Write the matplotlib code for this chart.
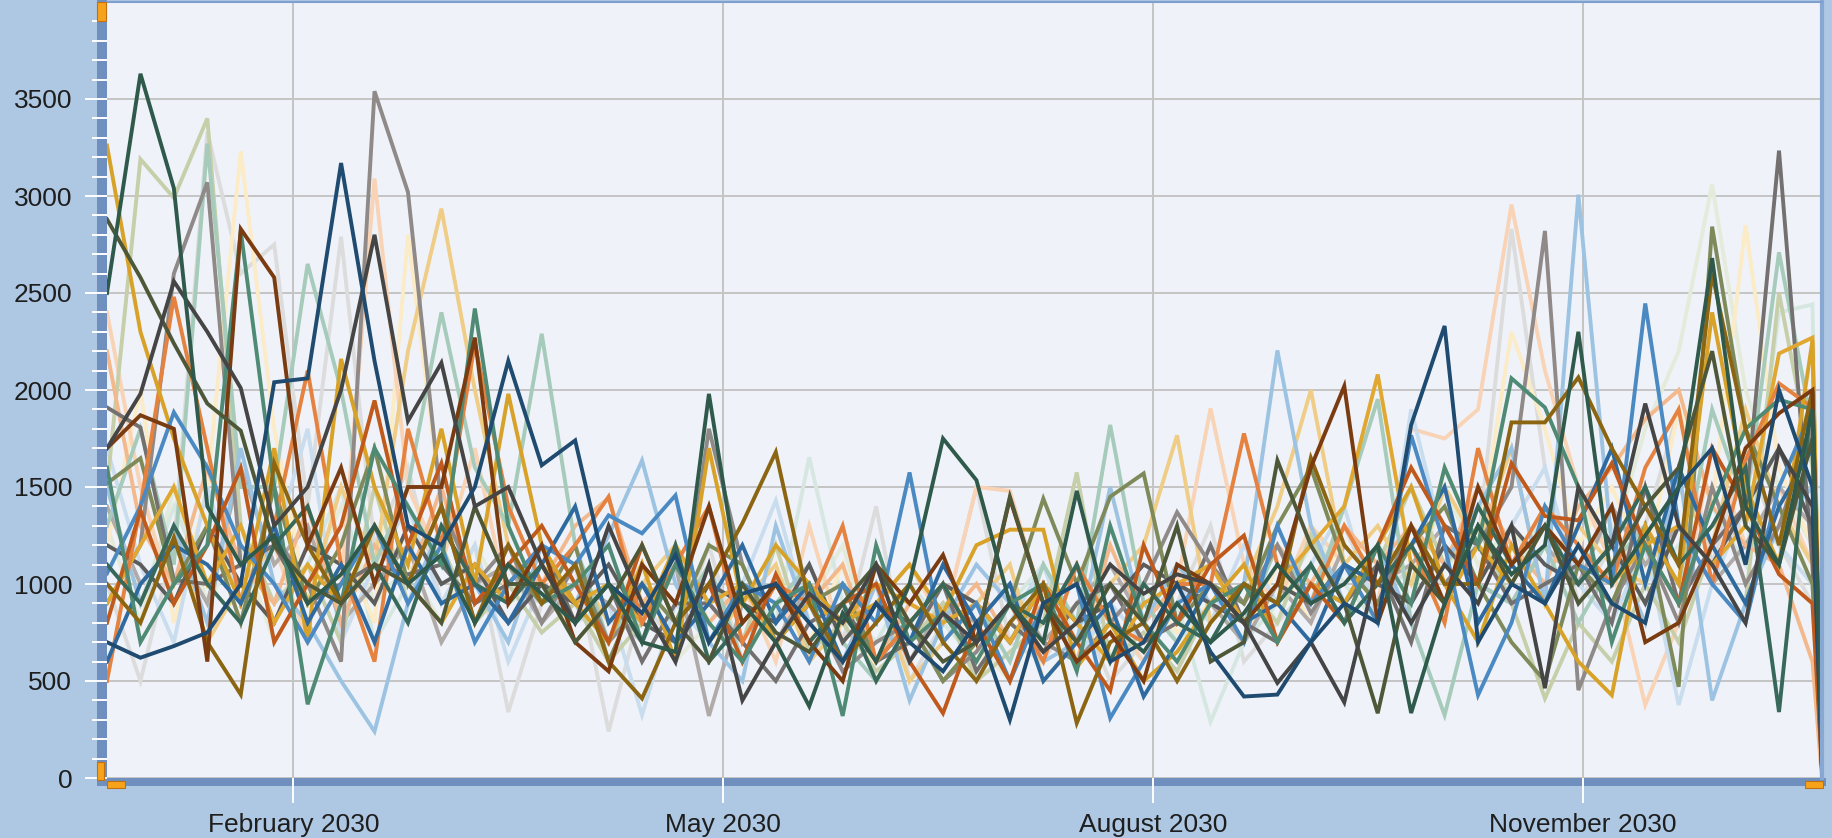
import numpy as np
import pandas as pd
import matplotlib
matplotlib.use("Agg")
import matplotlib.pyplot as plt
from matplotlib.patches import Rectangle

# weekly dates, last point is a partial week two days after the last full week
start = pd.Timestamp("2029-12-24")
dates = list(pd.date_range(start, periods=52, freq="7D")) + [start + pd.Timedelta(days=359)]

tick_dates = pd.to_datetime(["2030-02-01", "2030-05-02", "2030-07-31", "2030-10-29"])
tick_labels = ["February 2030", "May 2030", "August 2030", "November 2030"]

# values per series (k0-12, k13-25, k26-38, k39-51, partial)
dark_green = [2500, 3630, 3040, 1400, 1100, 1250, 900, 1050, 1300, 1000, 1150, 800, 1100,
              950, 800, 1000, 700, 650, 1980, 900, 700, 370, 850, 600, 1000, 1750,
              1535, 900, 700, 1480, 800, 650, 900, 700, 850, 1100, 900, 1000, 1200,
              335, 900, 1300, 1050, 1200, 2300, 1000, 1250, 1500, 2680, 1400, 1100, 1900, 80]
sage = [1500, 3190, 2990, 3400, 1300, 900, 1100, 700, 1500, 900, 1200, 800, 1000,
        750, 900, 600, 800, 1100, 900, 700, 1200, 650, 800, 550, 700, 900,
        500, 650, 800, 1575, 600, 750, 550, 900, 1000, 800, 1250, 900, 1100,
        1500, 1100, 1300, 900, 410, 800, 600, 1000, 700, 1200, 900, 2500, 1600, 100]
warm_gray = [900, 1200, 2600, 3070, 1100, 1250, 1000, 600, 3540, 3020, 1400, 1000, 1200,
             800, 1100, 700, 900, 600, 1800, 1100, 700, 900, 550, 700, 800, 500,
             650, 900, 700, 600, 800, 1000, 1370, 1100, 900, 1200, 850, 1100, 900,
             1300, 1000, 1200, 1500, 2820, 453, 900, 1200, 800, 1500, 1000, 1300, 1800, 60]
peach = [2400, 1500, 900, 1300, 800, 1200, 700, 1000, 3090, 1500, 1100, 1700, 900,
         1200, 800, 1000, 700, 1200, 800, 1000, 600, 1300, 700, 900, 1100, 800,
         1500, 1480, 900, 700, 850, 600, 1000, 1905, 1100, 900, 1300, 1100, 900,
         1800, 1750, 1900, 2956, 2100, 1500, 1100, 376, 800, 1700, 1200, 1500, 1100, 150]
cream = [1200, 2000, 800, 1500, 3230, 1800, 900, 1200, 800, 2800, 1400, 1000, 800,
         1100, 700, 900, 1200, 800, 1000, 600, 900, 700, 1100, 500, 800, 1000,
         600, 800, 700, 900, 600, 1000, 750, 900, 700, 1100, 800, 1300, 1000,
         900, 1600, 1200, 2300, 1800, 1200, 1500, 1100, 1900, 1400, 2850, 1600, 1200, 120]
navy = [700, 620, 680, 750, 1000, 2040, 2060, 3170, 2150, 1300, 1200, 1500, 2150,
        1612, 1740, 1000, 850, 1150, 700, 950, 1000, 800, 600, 900, 700, 550,
        800, 300, 900, 1000, 600, 700, 1000, 650, 420, 430, 700, 900, 800,
        1820, 2330, 700, 1000, 900, 1200, 900, 800, 1500, 1700, 1100, 2000, 1500, 50]
charcoal = [1700, 1980, 2560, 2300, 2010, 1300, 1500, 2000, 2800, 1840, 2140, 1400, 1500,
            1100, 800, 1300, 900, 600, 1100, 400, 700, 950, 800, 1100, 600, 850,
            700, 900, 650, 800, 1100, 950, 1050, 1000, 800, 490, 700, 390, 1100,
            800, 1100, 900, 1300, 463, 1500, 1200, 1930, 1300, 1100, 800, 1700, 1400, 40]
goldenrod = [3260, 2300, 1750, 1300, 900, 1700, 700, 2160, 1500, 1100, 1800, 1000, 1980,
             1200, 900, 700, 1107, 600, 1700, 900, 1200, 1000, 800, 900, 1100, 850,
             1200, 1280, 1280, 570, 800, 500, 650, 900, 1100, 700, 1000, 900, 1200,
             1500, 1000, 700, 1200, 900, 600, 427, 1300, 1000, 2400, 1500, 1100, 2255, 50]
dark_olive = [2880, 2580, 2240, 1930, 1790, 1200, 1000, 900, 1100, 1000, 800, 1400, 1000,
              1000, 700, 900, 1200, 800, 600, 1000, 750, 650, 900, 1100, 800, 600,
              700, 1450, 900, 700, 1000, 800, 1300, 600, 700, 1637, 1200, 900, 334,
              1100, 900, 1300, 1000, 1300, 900, 1100, 1400, 1600, 2200, 1300, 1100, 1750, 90]
brown = [1700, 1870, 1800, 600, 2830, 2580, 1200, 1600, 1000, 1500, 1500, 2270, 900,
         1200, 700, 550, 1100, 900, 1400, 800, 1000, 700, 500, 1100, 900, 1150,
         700, 1440, 900, 600, 750, 500, 1100, 1000, 800, 1000, 1600, 2020, 800,
         1300, 900, 1500, 1100, 1300, 1100, 1400, 700, 800, 1200, 1700, 1880, 2000, 100]
light_gray = [1000, 500, 1200, 3330, 2600, 2750, 1400, 2790, 1200, 1600, 900, 1200, 340,
              900, 1100, 240, 900, 700, 1200, 600, 900, 1000, 700, 1400, 500, 800,
              1500, 700, 600, 900, 500, 700, 900, 1300, 600, 800, 1000, 1300, 900,
              1100, 1000, 1200, 2830, 1600, 900, 1200, 1300, 1900, 1100, 1700, 1200, 900, 70]
teal = [1600, 700, 1000, 1200, 2820, 1500, 380, 900, 1700, 1400, 1100, 2420, 1300,
        900, 1000, 1200, 700, 1100, 800, 600, 900, 1000, 320, 1200, 700, 850,
        600, 900, 1000, 550, 1300, 800, 600, 900, 1000, 700, 1100, 800, 1200,
        900, 1600, 1200, 2060, 1910, 1500, 700, 1200, 900, 1400, 1800, 1950, 1900, 60]
mint = [1300, 1800, 1100, 3270, 1500, 1500, 2650, 2000, 1100, 1500, 2400, 1600, 1300,
        2290, 1200, 700, 1000, 800, 1100, 600, 900, 1100, 700, 500, 800, 1000,
        900, 600, 1100, 800, 1820, 900, 700, 1000, 800, 1200, 900, 1400, 1953,
        800, 324, 1000, 900, 1200, 800, 1100, 1300, 1000, 1900, 1400, 2710, 1800, 120]
wheat = [1500, 900, 1300, 700, 1000, 1200, 900, 1500, 1100, 2200, 2935, 2000, 1200,
         900, 1100, 800, 1000, 1200, 700, 900, 1100, 600, 800, 1000, 500, 700,
         900, 1100, 500, 700, 1000, 1200, 1766, 800, 1000, 1400, 2000, 1100, 1300,
         1000, 1500, 1200, 1700, 900, 1300, 1100, 1000, 1500, 1200, 1900, 1400, 1100, 100]
orange = [500, 1400, 2480, 1700, 900, 1300, 2100, 1100, 600, 1800, 1200, 2240, 1400,
          1000, 1200, 1450, 800, 1100, 1400, 700, 1000, 900, 1300, 600, 800, 1000,
          700, 900, 600, 1100, 800, 700, 1000, 1000, 1776, 1100, 900, 1300, 1000,
          1200, 800, 1700, 1100, 1400, 1200, 1000, 1600, 1900, 1000, 1637, 2034, 1910, 40]
rust = [800, 1380, 900, 1200, 1596, 700, 1000, 1300, 1946, 1200, 1622, 900, 1100,
        1300, 1000, 700, 1200, 800, 1000, 600, 1050, 700, 900, 1000, 600, 334,
        800, 500, 1000, 700, 450, 1200, 800, 1100, 1250, 700, 1000, 800, 1200,
        1600, 1300, 1000, 1622, 1350, 1328, 1622, 1200, 900, 1700, 1400, 1050, 900, 50]
steel_blue = [1055, 1400, 1885, 1600, 1200, 1000, 700, 1000, 1300, 900, 1200, 700, 1000,
              1200, 1100, 1354, 1261, 1457, 700, 1000, 900, 600, 1000, 800, 1575, 700,
              900, 500, 900, 1000, 309, 600, 900, 1000, 700, 1300, 900, 1100, 800,
              1766, 1200, 427, 800, 1400, 1100, 1000, 2446, 1300, 1000, 800, 1500, 1900, 60]
light_blue = [1500, 900, 1300, 800, 1700, 1000, 800, 500, 240, 900, 1300, 1000, 700,
              1200, 900, 1250, 1637, 1000, 700, 500, 1300, 800, 600, 1000, 400, 800,
              1100, 900, 600, 700, 1500, 800, 1100, 900, 1000, 2204, 1300, 900, 1200,
              800, 1100, 1400, 1700, 900, 3007, 1200, 800, 1600, 400, 900, 1300, 1500, 80]
pale_blue = [1700, 1100, 700, 1500, 900, 1200, 1800, 700, 1100, 1400, 900, 1200, 600,
             1000, 800, 900, 324, 900, 700, 1000, 1430, 800, 600, 900, 700, 1000,
             500, 800, 1100, 600, 900, 700, 1000, 800, 1200, 900, 1100, 1400, 800,
             1900, 1200, 1000, 1300, 1600, 1000, 800, 1200, 376, 1000, 1400, 1200, 1000, 100]
olive = [1519, 1648, 1000, 1300, 800, 1500, 900, 1200, 1700, 1000, 1400, 800, 1100,
         900, 1200, 600, 1000, 800, 1200, 1100, 700, 900, 1000, 600, 800, 500,
         700, 900, 1440, 1000, 1450, 1570, 800, 1000, 900, 1300, 1600, 1100, 900,
         1200, 1400, 1000, 700, 500, 1100, 900, 1300, 470, 2842, 1800, 1400, 1000, 90]
dark_gold = [1000, 800, 1241, 700, 430, 1622, 1200, 900, 1300, 1000, 1400, 800, 1200,
             900, 1100, 600, 410, 800, 1000, 1313, 1680, 900, 600, 800, 1000, 700,
             500, 800, 1000, 283, 700, 800, 500, 800, 1000, 900, 1650, 1200, 1000,
             1300, 1000, 1000, 1833, 1833, 2065, 1700, 1400, 1100, 2600, 1800, 1200, 2000, 70]
mid_gray = [1910, 1807, 1020, 1000, 1100, 1200, 900, 1000, 1100, 1050, 1100, 900, 1000,
            1200, 800, 1000, 600, 900, 900, 700, 500, 800, 900, 600, 700, 1000,
            550, 800, 650, 900, 1000, 700, 800, 1200, 800, 700, 1000, 900, 1100,
            700, 1300, 1200, 900, 1000, 1100, 800, 1500, 900, 1200, 1400, 3234, 1100, 30]
pale_green = [1300, 800, 1500, 900, 1200, 700, 1000, 1400, 900, 1100, 800, 1200, 900,
              1000, 700, 900, 1100, 600, 800, 1000, 700, 900, 1200, 600, 800, 1000,
              700, 500, 900, 600, 800, 1000, 700, 900, 1100, 800, 1300, 1000, 1200,
              900, 1500, 1100, 1300, 1000, 1400, 1200, 1800, 2200, 3059, 2000, 1500, 1200, 110]
pale_mint = [1100, 900, 1400, 1000, 1300, 800, 1100, 1500, 700, 1000, 1200, 800, 1000,
             900, 1100, 700, 1100, 900, 700, 1000, 800, 1653, 900, 700, 1000, 800,
             600, 900, 1100, 700, 800, 600, 900, 290, 700, 900, 1200, 1000, 800,
             1300, 1100, 1200, 1000, 1400, 1100, 1300, 1000, 1200, 1400, 1100, 2400, 2441, 90]
blue = [600, 1000, 1200, 1100, 900, 1300, 800, 1100, 700, 1200, 900, 1000, 800,
        1100, 1400, 800, 1000, 700, 900, 1200, 800, 1000, 600, 900, 700, 1100,
        800, 1000, 500, 700, 900, 420, 700, 1000, 800, 900, 700, 1100, 1000,
        1200, 1500, 800, 1100, 900, 1300, 1700, 1000, 1600, 1200, 900, 1400, 1700, 60]
dark_teal = [1100, 900, 1300, 1000, 800, 1200, 1400, 900, 1100, 800, 1300, 1000, 900,
             1100, 800, 1000, 700, 1200, 600, 800, 1000, 700, 900, 500, 800, 1000,
             700, 900, 800, 1100, 600, 1000, 800, 700, 1000, 900, 1100, 800, 1000,
             1200, 900, 1400, 1100, 1300, 1000, 1200, 1500, 1100, 1300, 1600, 340, 2000, 50]
light_warm_gray = [1400, 1000, 1200, 900, 1600, 1100, 1300, 800, 1000, 1200, 700, 1000, 1100,
                   800, 1000, 900, 700, 1100, 320, 900, 700, 1000, 800, 1100, 600, 900,
                   800, 1000, 700, 900, 1100, 800, 1000, 900, 700, 1000, 800, 1200, 1000,
                   1100, 1300, 1000, 900, 1200, 1000, 1400, 1100, 1300, 1000, 1200, 1500, 1300, 80]
light_orange = [2200, 1300, 1000, 1600, 1100, 900, 1400, 800, 1200, 1000, 1500, 900, 1100,
                1000, 1300, 1442, 900, 1100, 800, 1000, 700, 900, 1100, 600, 900, 800,
                1000, 700, 900, 600, 1200, 800, 1000, 1100, 900, 1200, 1000, 1300, 1100,
                1300, 1100, 1500, 1200, 1000, 1400, 1600, 1850, 2000, 1400, 1200, 1100, 600, 0]
dark_gray = [1200, 1100, 900, 1300, 1000, 800, 1200, 1100, 900, 1300, 1000, 1100, 800,
             1000, 900, 1100, 800, 700, 1000, 900, 800, 1100, 700, 900, 800, 1000,
             900, 700, 1000, 800, 900, 1100, 1000, 900, 800, 1000, 900, 1100, 1000,
             900, 1200, 1000, 1300, 1100, 1000, 1200, 900, 1300, 1100, 1400, 1700, 1300, 40]
amber = [900, 1200, 1500, 1000, 1300, 800, 1100, 900, 1300, 1000, 800, 1100, 900,
         1100, 900, 1000, 800, 1200, 900, 1000, 700, 900, 800, 1000, 900, 800,
         900, 700, 1000, 800, 600, 900, 1000, 1100, 800, 1000, 1200, 1400, 2080,
         1100, 900, 1200, 1000, 1300, 1100, 1000, 1200, 1300, 1100, 1300, 2188, 2270, 30]

series = [light_gray, pale_green, pale_mint, cream, peach, pale_blue, light_warm_gray,
          sage, wheat, light_orange, mint, light_blue, mid_gray, warm_gray, dark_gray,
          olive, amber, orange, goldenrod, steel_blue, blue, rust, teal, dark_teal,
          dark_gold, brown, dark_olive, charcoal, navy, dark_green]
colors = ["#dcdcdc", "#e5ebda", "#d5e7e0", "#fbebc6", "#f9d3b6", "#c9ddef", "#b0aaa8",
          "#c6cfa9", "#f0cd86", "#f3b98c", "#a6cbbb", "#9dc3e3", "#747070", "#8f8987", "#5c5c5c",
          "#7f8a5b", "#e0a830", "#e5823f", "#d8a229", "#4a89c2", "#2e6a9f", "#c05a1c", "#4f8b74", "#38685a",
          "#8b6512", "#7b3b11", "#4e5839", "#454545", "#1f4b70", "#2f5a4b"]

W, H = 1832, 838
fig = plt.figure(figsize=(W / 100, H / 100), dpi=100)
fig.patch.set_facecolor("#aec8e3")
plt.rcParams["font.family"] = ["Liberation Sans", "DejaVu Sans"]

ax = fig.add_axes([107 / W, 1 - 778 / H, 1715 / W, 776 / H])
ax.set_facecolor("#eff3f9")

for vals, c in zip(series, colors):
    ax.plot(dates, vals, color=c, lw=2.8, solid_joinstyle="miter")

ax.set_xlim(dates[0], dates[-1])
ax.set_ylim(0, 4000)
ax.set_yticks(np.arange(0, 4000, 500))
ax.set_yticks(np.arange(0, 4000, 100), minor=True)
ax.set_xticks(tick_dates, tick_labels)
ax.grid(True, which="major", color="#c4c4c4", lw=1.4)
ax.set_axisbelow(True)

ax.tick_params(axis="y", which="major", direction="out", length=16, width=1.4,
               color="white", labelsize=19, labelcolor="#1e1e1e", pad=9)
ax.tick_params(axis="y", which="minor", direction="out", length=11, width=1.4, color="white")
ax.tick_params(axis="x", which="major", direction="out", length=18, width=1.4,
               color="white", labelsize=19, labelcolor="#1e1e1e", pad=7)

for side in ["left", "bottom"]:
    ax.spines[side].set_visible(False)
ax.spines["top"].set_color("#7f9fcf")
ax.spines["top"].set_linewidth(1.5)
ax.spines["right"].set_color("#88a8d4")
ax.spines["right"].set_linewidth(3)


def px_rect(x0, y0, x1, y1, fc, ec="none", z=-1):
    fig.add_artist(Rectangle((x0 / W, 1 - y1 / H), (x1 - x0) / W, (y1 - y0) / H,
                             transform=fig.transFigure, facecolor=fc, edgecolor=ec,
                             lw=0.8, zorder=z))


# thick scrollbar-like axis bars
px_rect(97, 0, 107, 786, "#6f8fbf")
px_rect(97, 778, 1826, 786, "#6f8fbf")
# small orange handles
px_rect(97, 2, 106, 21, "#f7a21b", "#c07010", z=5)
px_rect(97, 762, 104, 780, "#f7a21b", "#c07010", z=5)
px_rect(107, 781, 125, 788, "#f7a21b", "#c07010", z=5)
px_rect(1805, 781, 1823, 788, "#f7a21b", "#c07010", z=5)

fig.savefig("out.png", dpi=100, facecolor=fig.get_facecolor())
